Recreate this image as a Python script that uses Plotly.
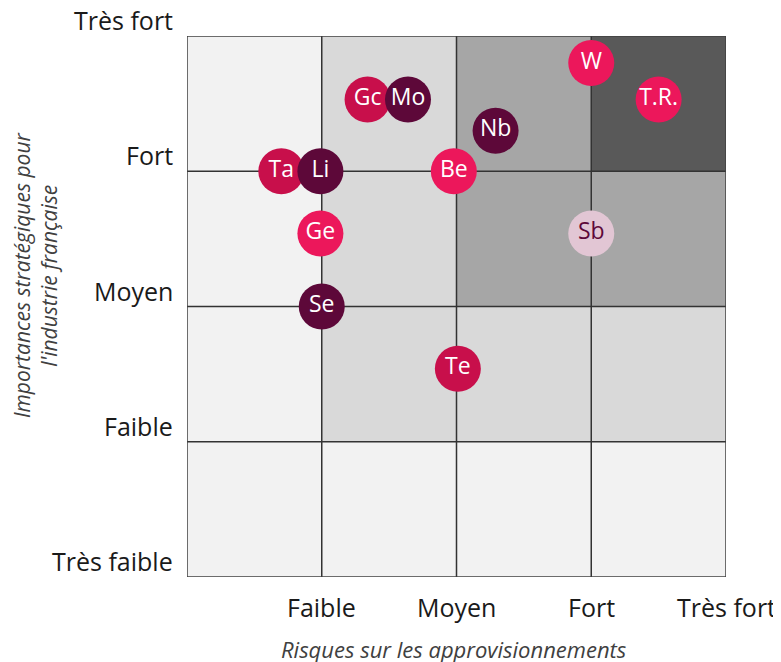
import plotly.graph_objects as go

# ---- data ----
level_labels = ["Très faible", "Faible", "Moyen", "Fort", "Très fort"]
level_values = [0, 1, 2, 3, 4]

cell_centers = [0.5, 1.5, 2.5, 3.5]
cell_levels = [
    [0, 0, 0, 0],
    [0, 1, 1, 1],
    [0, 1, 2, 2],
    [0, 1, 2, 3],
]

elements = ["Gc", "Mo", "Ta", "Li", "Be", "Nb", "W", "T.R.", "Ge", "Sb", "Se", "Te"]
risk = [1.34, 1.64, 0.70, 0.99, 1.98, 2.29, 3.00, 3.50, 0.99, 3.00, 1.00, 2.01]
importance = [3.53, 3.53, 3.00, 3.00, 3.00, 3.30, 3.80, 3.53, 2.54, 2.54, 2.00, 1.54]
groups = ["crimson", "maroon", "crimson", "maroon", "pink", "maroon", "pink", "pink",
          "pink", "light", "maroon", "crimson"]

# ---- styles ----
group_colors = {"crimson": "#c80f4b", "maroon": "#5d0839", "pink": "#ec175b", "light": "#e2c6d4"}
text_colors = {"crimson": "white", "maroon": "white", "pink": "white", "light": "#5d0839"}
shade_scale = [[0.0, "#f2f2f2"], [0.25, "#f2f2f2"], [0.25, "#d9d9d9"], [0.5, "#d9d9d9"],
               [0.5, "#a6a6a6"], [0.75, "#a6a6a6"], [0.75, "#595959"], [1.0, "#595959"]]
FONT = "Open Sans"

fig = go.Figure()
fig.add_trace(go.Heatmap(
    x=cell_centers, y=cell_centers, z=cell_levels, zmin=-0.5, zmax=3.5,
    colorscale=shade_scale, showscale=False, hoverinfo="skip", xgap=0, ygap=0,
))

# inner grid lines (drawn as a trace so the bubbles sit above them)
gx, gy = [], []
for v in level_values[1:-1]:
    gx += [v, v, None, level_values[0], level_values[-1], None]
    gy += [level_values[0], level_values[-1], None, v, v, None]
fig.add_trace(go.Scatter(x=gx, y=gy, mode="lines", line=dict(color="#333333", width=1.5),
                         hoverinfo="skip", showlegend=False))

fig.add_trace(go.Scatter(
    x=risk, y=importance, mode="markers+text", text=elements,
    textposition="middle center",
    marker=dict(size=46, color=[group_colors[g] for g in groups], line=dict(width=0), opacity=1),
    textfont=dict(family=FONT, size=23, color=[text_colors[g] for g in groups]),
    hoverinfo="text", showlegend=False,
))

shapes = [dict(type="rect", xref="x", yref="y", x0=0, x1=4, y0=0, y1=4,
               line=dict(color="#404040", width=1.5), layer="above")]

annotations = []
for v, lab in zip(level_values, level_labels):
    annotations.append(dict(xref="paper", yref="y", x=0, y=v, xshift=-12, yshift=16,
                            xanchor="right", yanchor="middle", text=lab, showarrow=False,
                            font=dict(family=FONT, size=25, color="#1a1a1a")))
for v, lab in zip(level_values[1:], level_labels[1:]):
    annotations.append(dict(xref="x", yref="paper", x=v, y=0, yshift=-11,
                            xanchor="center", yanchor="top", text=lab, showarrow=False,
                            font=dict(family=FONT, size=25, color="#1a1a1a")))
annotations.append(dict(xref="paper", yref="paper", x=0.495, y=0, yshift=-72,
                        xanchor="center", yanchor="middle",
                        text="<i>Risques sur les approvisionnements</i>", showarrow=False,
                        font=dict(family=FONT, size=22, color="#404040")))
annotations.append(dict(xref="paper", yref="paper", x=0, y=0.558, xshift=-152,
                        xanchor="center", yanchor="middle", textangle=-90,
                        text="<i>Importances stratégiques pour<br>l'industrie française</i>",
                        showarrow=False,
                        font=dict(family=FONT, size=21, color="#404040")))

fig.update_layout(
    width=781, height=662,
    margin=dict(l=179, r=63, t=28, b=93),
    paper_bgcolor="white", plot_bgcolor="white",
    xaxis=dict(range=[0, 4], showgrid=False, zeroline=False, showticklabels=False,
               ticks="", fixedrange=True),
    yaxis=dict(range=[0, 4], showgrid=False, zeroline=False, showticklabels=False,
               ticks="", fixedrange=True),
    shapes=shapes, annotations=annotations, showlegend=False,
)

fig.write_html("out.html")
